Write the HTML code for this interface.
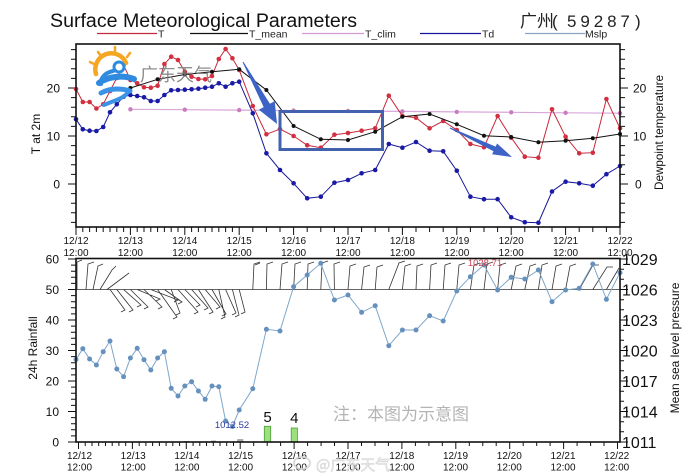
<!DOCTYPE html>
<html><head><meta charset="utf-8"><style>
html,body{margin:0;padding:0;background:#fff;}
svg{display:block;font-family:"Liberation Sans","Noto Sans CJK SC",sans-serif;}
</style></head><body>
<svg width="690" height="476" viewBox="0 0 690 476" xmlns="http://www.w3.org/2000/svg">
<defs>
<marker id="mr" markerWidth="6" markerHeight="6" refX="3" refY="3" markerUnits="userSpaceOnUse"><circle cx="3" cy="3" r="2.3" fill="#d23040"/></marker>
<marker id="mk" markerWidth="6" markerHeight="6" refX="3" refY="3" markerUnits="userSpaceOnUse"><circle cx="3" cy="3" r="2" fill="#111"/></marker>
<marker id="mb" markerWidth="6" markerHeight="6" refX="3" refY="3" markerUnits="userSpaceOnUse"><circle cx="3" cy="3" r="2.3" fill="#1a1aa8"/></marker>
<marker id="mp" markerWidth="6" markerHeight="6" refX="3" refY="3" markerUnits="userSpaceOnUse"><circle cx="3" cy="3" r="2.2" fill="#c97cbe"/></marker>
<marker id="ms" markerWidth="6" markerHeight="6" refX="3" refY="3" markerUnits="userSpaceOnUse"><circle cx="3" cy="3" r="2.5" fill="#6690bd"/></marker>
</defs>
<rect width="690" height="476" fill="#fff"/>

<!-- Title -->
<text x="50" y="27" font-size="19.6" fill="#111">Surface Meteorological Parameters</text>
<text x="520" y="27" font-size="17" fill="#222" font-family="Noto Sans CJK SC, sans-serif">广州</text>
<text x="552" y="27" font-size="17" fill="#222">(</text>
<text x="567" y="27" font-size="17" fill="#222" letter-spacing="3.9">59287</text>
<text x="635" y="27" font-size="17" fill="#222">)</text>

<!-- Legend -->
<g stroke-width="1.3">
<line x1="97" y1="33.5" x2="157" y2="33.5" stroke="#c8283a"/>
<line x1="190" y1="33.5" x2="248" y2="33.5" stroke="#111"/>
<line x1="302" y1="33.5" x2="364" y2="33.5" stroke="#d49ad4"/>
<line x1="420" y1="33.5" x2="481" y2="33.5" stroke="#16169a"/>
<line x1="525" y1="33.5" x2="585" y2="33.5" stroke="#8aa4c4"/>
</g>
<g font-size="10.5" fill="#222">
<text x="158" y="37.5">T</text>
<text x="249" y="37.5">T_mean</text>
<text x="365" y="37.5">T_clim</text>
<text x="482" y="37.5">Td</text>
<text x="585" y="37.5">Mslp</text>
</g>

<!-- ===== TOP PANEL ===== -->
<!-- ticks -->
<path fill="none" stroke="#111" stroke-width="1" d="
M68,184H76M68,136H76M68,88H76
M71,222.4H76M71,212.8H76M71,203.2H76M71,193.6H76M71,174.4H76M71,164.8H76M71,155.2H76M71,145.6H76M71,126.4H76M71,116.8H76M71,107.2H76M71,97.6H76M71,78.4H76M71,68.8H76M71,59.2H76M71,49.6H76
M620,184H628M620,136H628M620,88H628
M620,222.4H625M620,212.8H625M620,203.2H625M620,193.6H625M620,174.4H625M620,164.8H625M620,155.2H625M620,145.6H625M620,126.4H625M620,116.8H625M620,107.2H625M620,97.6H625M620,78.4H625M620,68.8H625M620,59.2H625M620,49.6H625
M76,227v8M130.4,227v8M184.8,227v8M239.2,227v8M293.6,227v8M348,227v8M402.4,227v8M456.8,227v8M511.2,227v8M565.6,227v8M620,227v8
M82.8,227v5M89.6,227v5M96.4,227v5M103.2,227v5M110,227v5M116.8,227v5M123.6,227v5
M137.2,227v5M144,227v5M150.8,227v5M157.6,227v5M164.4,227v5M171.2,227v5M178,227v5
M191.6,227v5M198.4,227v5M205.2,227v5M212,227v5M218.8,227v5M225.6,227v5M232.4,227v5
M252.8,227v5M266.4,227v5M280,227v5M307.2,227v5M320.8,227v5M334.4,227v5M361.6,227v5M375.2,227v5M388.8,227v5
M416,227v5M429.6,227v5M443.2,227v5M470.4,227v5M484,227v5M497.6,227v5M524.8,227v5M538.4,227v5M552,227v5M579.2,227v5M592.8,227v5M606.4,227v5"/>

<!-- y labels -->
<g font-size="12" fill="#111">
<text x="60" y="92.3" text-anchor="end">20</text>
<text x="60" y="140.3" text-anchor="end">10</text>
<text x="60" y="188.3" text-anchor="end">0</text>
<text x="633" y="92.3">20</text>
<text x="633" y="140.3">10</text>
<text x="635" y="188.3">0</text>
</g>
<text transform="translate(40,134) rotate(-90)" text-anchor="middle" font-size="12" fill="#111">T at 2m</text>
<text transform="translate(663,132.5) rotate(-90)" text-anchor="middle" font-size="11.7" fill="#111">Dewpoint temperature</text>

<!-- x labels top -->
<g font-size="10" fill="#111" text-anchor="middle">
<text x="76" y="244">12/12</text><text x="76" y="256">12:00</text>
<text x="130.4" y="244">12/13</text><text x="130.4" y="256">12:00</text>
<text x="184.8" y="244">12/14</text><text x="184.8" y="256">12:00</text>
<text x="239.2" y="244">12/15</text><text x="239.2" y="256">12:00</text>
<text x="293.6" y="244">12/16</text><text x="293.6" y="256">12:00</text>
<text x="348" y="244">12/17</text><text x="348" y="256">12:00</text>
<text x="402.4" y="244">12/18</text><text x="402.4" y="256">12:00</text>
<text x="456.8" y="244">12/19</text><text x="456.8" y="256">12:00</text>
<text x="511.2" y="244">12/20</text><text x="511.2" y="256">12:00</text>
<text x="565.6" y="244">12/21</text><text x="565.6" y="256">12:00</text>
<text x="620" y="244">12/22</text><text x="620" y="256">12:00</text>
</g>

<!-- T_clim -->
<polyline fill="none" stroke="#d9a6d9" stroke-width="1.2" marker-start="url(#mp)" marker-mid="url(#mp)" marker-end="url(#mp)"
points="130.4,109.3 184.8,109.7 239.2,110.1 293.6,110.6 348,111 402.4,111.4 456.8,111.9 511.2,112.3 565.6,112.8 620,113.2"/>

<!-- Td -->
<polyline fill="none" stroke="#16169a" stroke-width="1" marker-start="url(#mb)" marker-mid="url(#mb)" marker-end="url(#mb)"
points="76,119.3 82.8,129.3 89.6,130.7 96.4,131 103.2,127 110,112.3 116.8,104.3 123.6,96.7 130.4,95 137.2,96 144,97.3 150.8,101 157.6,101 164.4,95 171.2,90.3 178,90 184.8,89.7 191.6,89.3 198.4,88.7 205.2,87.7 212,86.7 218.8,83.3 225.6,86.7 232.4,83.3 239.2,81.7 252.8,113.3 266.4,153.3 280,170 293.6,183.3 307.2,198.3 320.8,196.7 334.4,182.7 348,180 361.6,173.3 375.2,170 388.8,144 402.4,147.7 416,142 429.6,150.7 443.2,151.3 456.8,170.7 470.4,196.7 484,199.2 497.6,199.2 511.2,217.3 524.8,222.2 538.4,222.7 552,191.5 565.6,181.7 579.2,183.3 592.8,185.7 606.4,174.2 620,166"/>

<!-- T -->
<polyline fill="none" stroke="#c8283a" stroke-width="1" marker-start="url(#mr)" marker-mid="url(#mr)" marker-end="url(#mr)"
points="76,89 82.8,102 89.6,102 96.4,108.5 103.2,104.3 110,91 116.8,78 123.6,65 130.4,80 137.2,83.3 144,87.3 150.8,87.7 157.6,85.7 164.4,64 171.2,56.7 178,60 184.8,71.7 191.6,76.7 198.4,79 205.2,79.3 212,76 218.8,59 225.6,49 232.4,58.3 239.2,70 252.8,106 266.4,134.3 280,129 293.6,136 307.2,145.3 320.8,147.7 334.4,134.7 348,133 361.6,130.7 375.2,128.3 388.8,95.7 402.4,116 416,117.7 429.6,128.3 443.2,121 456.8,130 470.4,144 484,147.3 497.6,116 511.2,137.7 524.8,156.7 538.4,157.7 552,109.3 565.6,136.7 579.2,153.3 592.8,152.7 606.4,99 620,128.3"/>

<!-- T_mean -->
<polyline fill="none" stroke="#111" stroke-width="1" marker-start="url(#mk)" marker-mid="url(#mk)" marker-end="url(#mk)"
points="130.4,88 157.6,79.3 184.8,74.5 212,71.7 239.2,69.3 266.4,90 293.6,126 320.8,139.3 348,140 375.2,131.7 402.4,116.7 429.6,114 456.8,124.3 484,135.7 511.2,137 538.4,142.3 565.6,140.7 592.8,138.3 620,134"/>

<!-- annotations -->
<rect x="280" y="111.5" width="102.5" height="38" fill="none" stroke="#4262ad" stroke-width="3"/>
<polygon fill="#3d63c6" points="243.4,61.8 269.9,103.7 274.7,101.1 277,124 258.9,109.7 263.7,107.1 242.6,62.2"/>
<polygon fill="#3d63c6" points="450.3,127.5 495.7,146.6 497.1,143.5 512,157 492.1,154.3 493.5,151.2 449.7,128.5"/>

<!-- logo -->
<g fill="none" stroke-linecap="round">
<path d="M96,74 A16,16 0 0 1 126,63" stroke="#f5a623" stroke-width="4.5"/>
<path d="M98,52 L101,56 M115,47 L115,51 M130,53 L127,57 M90,62 L94,64" stroke="#f5a623" stroke-width="2.5"/>
<circle cx="119" cy="67" r="5" stroke="#2d8be0" stroke-width="3" fill="#fff"/>
<path d="M113,71 C104,73 100,79 101,84" stroke="#2f8ae0" stroke-width="4"/>
<path d="M99,83 C108,76 124,75 134,79" stroke="#2f8ae0" stroke-width="6"/>
<path d="M101,93 C110,88 122,88 130,91" stroke="#3a93e6" stroke-width="5"/>
<path d="M128,92 C124,99 112,101 104,105" stroke="#3a93e6" stroke-width="4"/>
</g>
<text x="140" y="81" font-size="18" fill="#7a7a7a" fill-opacity="0.85" font-family="Noto Sans CJK SC, sans-serif">广东天气</text>

<!-- top frame -->
<rect x="76" y="44" width="544" height="183" fill="none" stroke="#111" stroke-width="1.6"/>

<!-- ===== BOTTOM PANEL ===== -->
<path fill="none" stroke="#111" stroke-width="1" d="
M68,442H76M68,411.5H76M68,381H76M68,350.5H76M68,320H76M68,289.5H76M68,259H76
M71,435.9H76M71,429.8H76M71,423.7H76M71,417.6H76M71,405.4H76M71,399.3H76M71,393.2H76M71,387.1H76M71,374.9H76M71,368.8H76M71,362.7H76M71,356.6H76M71,344.4H76M71,338.3H76M71,332.2H76M71,326.1H76M71,313.9H76M71,307.8H76M71,301.7H76M71,295.6H76M71,283.4H76M71,277.3H76M71,271.2H76M71,265.1H76
M620,442H628M620,411.5H628M620,381H628M620,350.5H628M620,320H628M620,289.5H628M620,259H628
M620,431.8H624M620,421.7H624M620,401.3H624M620,391.2H624M620,370.8H624M620,360.7H624M620,340.3H624M620,330.2H624M620,309.8H624M620,299.7H624M620,279.3H624M620,269.2H624
M78.5,442v7M132.4,442v7M186.3,442v7M240.2,442v7M294.1,442v7M348,442v7M401.9,442v7M455.8,442v7M509.7,442v7M563.6,442v7M617.5,442v7
M85.2,442v4M92,442v4M98.7,442v4M105.5,442v4M112.2,442v4M118.9,442v4M125.7,442v4
M139.2,442v4M145.9,442v4M152.6,442v4M159.4,442v4M166.1,442v4M172.8,442v4M179.6,442v4
M193.1,442v4M199.8,442v4M206.5,442v4M213.3,442v4M220,442v4M226.7,442v4M233.5,442v4
M253.7,442v4M267.2,442v4M280.6,442v4M307.6,442v4M321.1,442v4M334.5,442v4M361.5,442v4M375,442v4M388.4,442v4
M415.4,442v4M428.9,442v4M442.3,442v4M469.3,442v4M482.8,442v4M496.2,442v4M523.2,442v4M536.7,442v4M550.1,442v4M577.1,442v4M590.6,442v4M604,442v4"/>

<g font-size="12" fill="#111" text-anchor="end">
<text x="59" y="446.3">0</text>
<text x="59" y="415.8">10</text>
<text x="59" y="385.3">20</text>
<text x="59" y="354.8">30</text>
<text x="59" y="324.3">40</text>
<text x="59" y="293.8">50</text>
<text x="59" y="263.3">60</text>
</g>
<g font-size="16" fill="#111">
<text x="622" y="448">1011</text>
<text x="622" y="417.5">1014</text>
<text x="622" y="387">1017</text>
<text x="622" y="356.5">1020</text>
<text x="622" y="326">1023</text>
<text x="622" y="295.5">1026</text>
<text x="622" y="265">1029</text>
</g>
<text transform="translate(37,348) rotate(-90)" text-anchor="middle" font-size="12" fill="#111">24h Rainfall</text>
<text transform="translate(679,348) rotate(-90)" text-anchor="middle" font-size="12" fill="#111">Mean sea level pressure</text>

<g font-size="10" fill="#111" text-anchor="middle">
<text x="79.5" y="459">12/12</text><text x="79.5" y="470.5">12:00</text>
<text x="133.2" y="459">12/13</text><text x="133.2" y="470.5">12:00</text>
<text x="186.9" y="459">12/14</text><text x="186.9" y="470.5">12:00</text>
<text x="240.6" y="459">12/15</text><text x="240.6" y="470.5">12:00</text>
<text x="294.4" y="459">12/16</text><text x="294.4" y="470.5">12:00</text>
<text x="348.1" y="459">12/17</text><text x="348.1" y="470.5">12:00</text>
<text x="401.8" y="459">12/18</text><text x="401.8" y="470.5">12:00</text>
<text x="455.5" y="459">12/19</text><text x="455.5" y="470.5">12:00</text>
<text x="509.3" y="459">12/20</text><text x="509.3" y="470.5">12:00</text>
<text x="563" y="459">12/21</text><text x="563" y="470.5">12:00</text>
<text x="616.7" y="459">12/22</text><text x="616.7" y="470.5">12:00</text>
</g>

<!-- wind barbs -->
<path fill="none" stroke="#333" stroke-width="0.8" d="
M76,289.5H620
M77,289.5L77,262l5,-2
M86,289.5L88,264l6,-2
M93,289.5L98,266l5,-2
M100,289.5L112,270l4,-4
M107,289.5L125,276l4,-3
M110,289.5L125,310l-4,2
M116.8,289.5L133,310l-4,2
M123.6,289.5L141,305l-4,2
M130.4,289.5L148,307l-4,2
M137.2,289.5L160,299l-4,2
M144,289.5L162,307l-4,2
M150.8,289.5L178,300l-4,2
M157.6,289.5L177,317l-4,2
M164.4,289.5L182,302l-4,2
M171.2,289.5L180,313l-4,2
M178,289.5L198,312l-4,2
M184.8,289.5L200,305l-4,2
M191.6,289.5L208,308l-4,2
M198.4,289.5L213,312l-4,2
M205.2,289.5L220,307l-4,2
M212,289.5L226,314l-4,2
M218.8,289.5L225,317l-4,2
M225.6,289.5L236,313l-4,2
M232.4,289.5L239,315l-4,2
M239.2,289.5L245,312l-4,2
M252.8,289.5L254,264l6,-2m-5,3l5,-2
M266.4,289.5L267,264l6,-2
M280,289.5L282,264l6,-2
M293.6,289.5L295,264l6,-2
M307.2,289.5L308,264l6,-2
M320.8,289.5L322,263l6,-2
M334.4,289.5L334,264l6,-2
M348,289.5L350,266l6,-2
M361.6,289.5L364,267l6,-2
M375.2,289.5L377,267l6,-2
M388.8,289.5L399,263l6,-2
M402.4,289.5L405,266l6,-2
M416,289.5L417,266l6,-2
M429.6,289.5L431,265l6,-2
M443.2,289.5L445,265l6,-2
M456.8,289.5L459,265l6,-2
M470.4,289.5L474,265l6,-2
M484,289.5L487,264l6,-2
M497.6,289.5L500,265l6,-2
M511.2,289.5L516,266l6,-2
M524.8,289.5L530,266l6,-2
M538.4,289.5L542,265l6,-2
M552,289.5L556,266l6,-2
M565.6,289.5L570,266l6,-2
M579.2,289.5L593,265l6,0
M592.8,289.5L607,267l6,0
M606.4,289.5L619,268"/>

<!-- rain bars -->
<rect x="184" y="441" width="5" height="1" fill="#9a9a9a"/>
<rect x="211" y="440.6" width="5" height="1.4" fill="#9a9a9a"/>
<rect x="237.5" y="439.5" width="5.5" height="2.5" fill="#aaa" stroke="#888" stroke-width="0.5"/>
<rect x="264.3" y="426.3" width="6.4" height="15.7" fill="#9be07c" stroke="#4c9a3a" stroke-width="0.8"/>
<rect x="291.2" y="428" width="6.2" height="14" fill="#9be07c" stroke="#4c9a3a" stroke-width="0.8"/>
<text x="267.5" y="422" font-size="15" text-anchor="middle" fill="#111">5</text>
<text x="294.3" y="423" font-size="15" text-anchor="middle" fill="#111">4</text>

<!-- Mslp -->
<polyline fill="none" stroke="#7ea6c9" stroke-width="1" marker-start="url(#ms)" marker-mid="url(#ms)" marker-end="url(#ms)"
points="76,359.5 82.8,348.7 89.6,359 96.4,365 103.2,351.7 110,341 116.8,369 123.6,376.7 130.4,358 137.2,348.3 144,359.7 150.8,370 157.6,358 164.4,351.7 171.2,388.3 178,396 184.8,386 191.6,381.7 198.4,391 205.2,399.3 212,386 218.8,386.7 225.6,421 232.4,426.5 239.2,410 252.8,388.7 266.4,329.3 280,331 293.6,286.7 307.2,275 320.8,263.3 334.4,300 348,295 361.6,312.3 375.2,305.7 388.8,345.7 402.4,330 416,330 429.6,315.7 443.2,321 456.8,291 470.4,276.7 484,265 497.6,290 511.2,277.3 524.8,279 538.4,270 552,301.7 565.6,290 579.2,288.3 592.8,264 606.4,299.3 620,272.7"/>
<text x="232" y="428" font-size="9.5" text-anchor="middle" fill="#2a3aa0">1012.52</text>
<text x="485" y="266" font-size="9.5" text-anchor="middle" fill="#d04050">1028.71</text>

<!-- bottom frame -->
<rect x="76" y="258.5" width="544" height="183.5" fill="none" stroke="#111" stroke-width="1.6"/>

<!-- watermark note -->
<text x="333" y="420" font-size="17" fill="#b4b4b4" font-family="Noto Sans CJK SC, sans-serif">注：本图为示意图</text>
<g opacity="0.85">
<ellipse cx="302" cy="463" rx="8" ry="6" fill="none" stroke="#d4d4d4" stroke-width="2"/>
<text x="316" y="470" font-size="15" fill="#e4e4e4" stroke="#cfcfcf" stroke-width="0.5" font-family="Noto Sans CJK SC, sans-serif">@广东天气</text>
</g>
</svg>
</body></html>
